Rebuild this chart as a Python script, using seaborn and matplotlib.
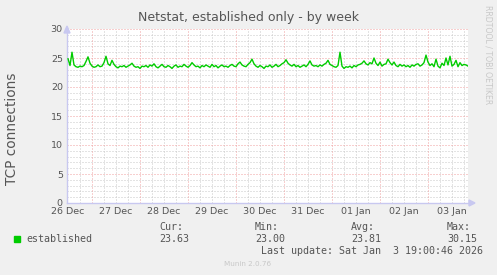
import numpy as np
import pandas as pd
import matplotlib
matplotlib.use("Agg")
import matplotlib.pyplot as plt
import seaborn as sns

# ---- data (hours since 26 Dec 00:00, hourly samples) ----
start_hour = 12
established = [
    24.9, 23.7, 26.0, 23.8, 23.5, 23.4, 23.6, 23.5, 23.7, 24.4,
    25.2, 24.1, 23.6, 23.4, 23.5, 23.8, 23.5, 23.6, 24.2, 25.3,
    24.0, 23.7, 24.6, 23.9, 23.5, 23.3, 23.6, 23.5, 23.7, 23.4,
    23.6, 23.8, 24.1, 23.6, 23.4, 23.5, 23.2, 23.6, 23.5, 23.7,
    23.4, 23.8, 23.6, 24.0, 23.5, 23.3, 23.6, 23.9, 23.5, 23.4,
    23.7, 23.5, 23.2, 23.6, 23.8, 23.4, 23.6, 23.5, 23.9, 23.6,
    23.4, 23.7, 24.2, 23.8, 23.5, 23.6, 23.3, 23.7, 23.5, 23.8,
    23.6, 23.4, 23.9, 23.5, 23.7, 23.3, 23.6, 23.8, 23.5, 23.6,
    23.4, 23.7, 23.9, 23.6, 23.5, 24.0, 24.3, 23.8, 23.6, 23.5,
    23.9, 24.2, 24.8, 24.0, 23.6, 23.4, 23.7, 23.5, 23.2, 23.6,
    23.5, 23.8, 23.4, 23.6, 23.9, 23.5, 23.7, 24.0, 24.2, 24.7,
    24.1, 23.8, 23.6, 23.9, 23.5, 23.7, 23.4, 23.6, 23.8, 23.5,
    23.9, 24.5, 23.8, 23.6, 23.7, 23.5, 23.8, 23.6, 23.9, 24.1,
    24.6, 23.9, 23.7, 23.5, 23.4, 23.7, 26.0, 23.6, 23.2, 23.5,
    23.4, 23.6, 23.3, 23.7, 23.5, 23.8, 23.9, 24.1, 24.5, 24.0,
    23.8, 24.2, 24.0, 25.0, 24.1, 23.7, 24.3, 23.6, 23.9, 24.0,
    24.8, 24.2, 23.8, 24.3, 23.7, 23.5, 23.9, 23.6, 23.8, 23.5,
    23.7, 23.4, 23.8, 23.6, 23.9, 24.0, 23.6, 23.8, 24.2, 25.5,
    24.3, 23.7, 24.0, 23.5, 24.8, 23.6, 23.3, 24.1, 23.7, 25.0,
    23.8, 25.3, 23.6, 23.9, 24.6, 23.5, 24.2, 23.7, 23.9, 23.8,
    23.6,
]
day_labels = ["26 Dec", "27 Dec", "28 Dec", "29 Dec", "30 Dec",
              "31 Dec", "01 Jan", "02 Jan", "03 Jan"]
series_name = "established"
stat_names = ["Cur:", "Min:", "Avg:", "Max:"]
stat_values = ["23.63", "23.00", "23.81", "30.15"]
title = "Netstat, established only - by week"
ylabel = "TCP connections"
last_update = "Last update: Sat Jan  3 19:00:46 2026"
footer = "Munin 2.0.76"
watermark = "RRDTOOL / TOBI OETIKER"

hours = np.arange(start_hour, start_hour + len(established))
df = pd.DataFrame({"hour": hours, "value": established})

# ---- figure ----
sns.set_theme(style="white")
plt.rcParams["font.family"] = ["DejaVu Sans"]
W, H = 497, 275
fig = plt.figure(figsize=(W / 100, H / 100), dpi=100, facecolor="#F0F0F0")

def fx(x):
    return x / W

def fy(y):
    return 1 - y / H

ax = fig.add_axes([fx(67), fy(203), (468 - 67) / W, (203 - 29) / H])
ax.set_facecolor("white")

xmin, xmax = 11.5, 212.0
ax.set_xlim(xmin, xmax)
ax.set_ylim(0, 30)

grid_minor = "#C8C8C8"
grid_major = "#F0A0A0"
dot = (0, (1, 2))
for y in range(1, 31):
    if y % 5:
        ax.axhline(y, color=grid_minor, lw=0.72, ls=dot, zorder=0)
for h in range(18, 213, 6):
    if h % 24:
        ax.axvline(h, color=grid_minor, lw=0.72, ls=dot, zorder=0)
for y in range(5, 31, 5):
    ax.axhline(y, color=grid_major, lw=0.72, ls=dot, zorder=0.5)
for h in range(24, 213, 24):
    ax.axvline(h, color=grid_major, lw=0.72, ls=dot, zorder=0.5)

sns.lineplot(data=df, x="hour", y="value", color="#00CC00", lw=1.0, ax=ax,
             legend=False, zorder=3)

ax.set_xticks([12 + 24 * i for i in range(len(day_labels))])
ax.set_xticklabels(day_labels)
ax.set_yticks(range(0, 31, 5))
ax.tick_params(axis="both", length=0, labelsize=6.8, labelcolor="#555555", pad=3)
ax.set_xlabel("")
ax.set_ylabel("")

for s in ["top", "right"]:
    ax.spines[s].set_visible(False)
for s in ["left", "bottom"]:
    ax.spines[s].set_color("#C8C8F0")
    ax.spines[s].set_linewidth(1.0)

# axis arrows
fig.patches.append(matplotlib.patches.Polygon(
    [(fx(64), fy(33)), (fx(70), fy(33)), (fx(67), fy(26))],
    closed=True, transform=fig.transFigure, color="#C8C8F0"))
fig.patches.append(matplotlib.patches.Polygon(
    [(fx(469), fy(200)), (fx(469), fy(206)), (fx(475), fy(203))],
    closed=True, transform=fig.transFigure, color="#C8C8F0"))

# texts
fig.text(fx(248), fy(18), title, ha="center", va="center", fontsize=9,
         color="#555555")
fig.text(fx(12), fy(129), ylabel, ha="center", va="center", rotation=90,
         fontsize=9.8, color="#555555")
fig.text(fx(488), fy(5), watermark, ha="center", va="top", rotation=-90,
         fontsize=5.6, color="#C8C8C8")

mono = "DejaVu Sans Mono"
fig.patches.append(matplotlib.patches.Rectangle(
    (fx(14), fy(242)), 6 / W, 6 / H, transform=fig.transFigure,
    color="#00CC00"))
fig.text(fx(26), fy(239.5), series_name, ha="left", va="center",
         fontsize=7.2, family=mono, color="#555555")
stat_x = [159, 255, 351, 447]
for x, n, v in zip(stat_x, stat_names, stat_values):
    fig.text(fx(x), fy(227.5), n, ha="left", va="center", fontsize=7.2,
             family=mono, color="#555555")
    fig.text(fx(x), fy(239.5), v, ha="left", va="center", fontsize=7.2,
             family=mono, color="#555555")
fig.text(fx(261), fy(251.5), last_update, ha="left", va="center",
         fontsize=7.2, family=mono, color="#555555")
fig.text(fx(248), fy(264), footer, ha="center", va="center", fontsize=5.2,
         color="#C8C8C8")

fig.savefig("out.png", dpi=100, facecolor=fig.get_facecolor())
